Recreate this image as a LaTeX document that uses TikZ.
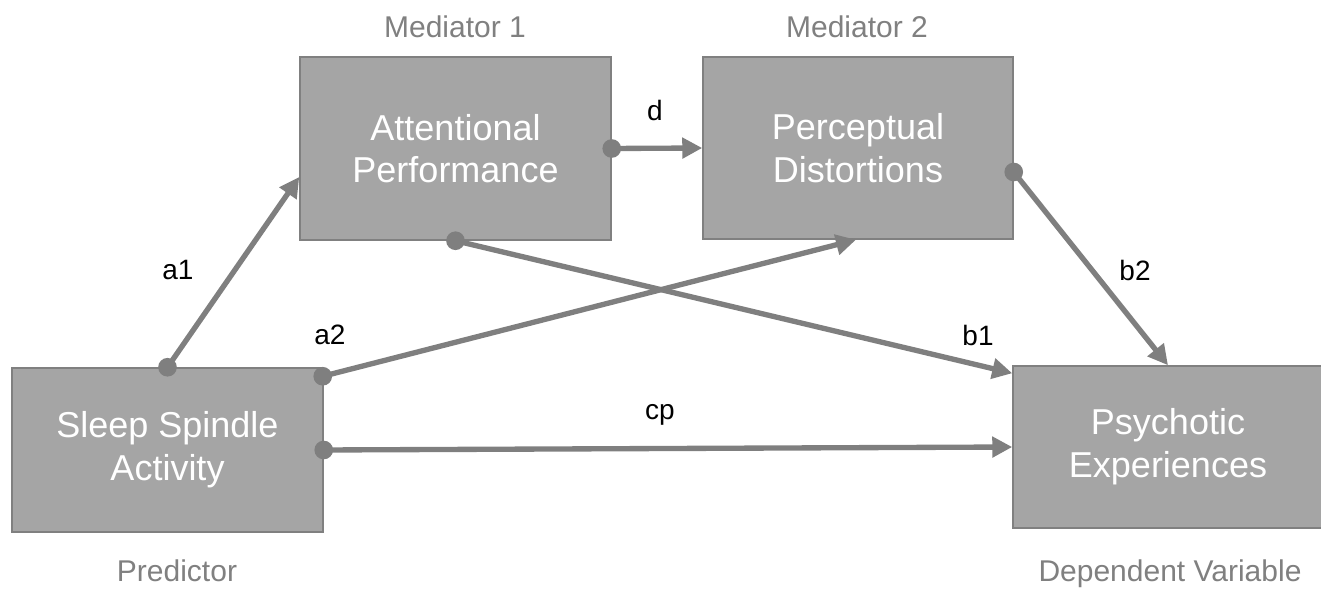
\documentclass[tikz,border=0pt]{standalone}
\usepackage{fontspec}
\setmainfont{Liberation Sans}
\usetikzlibrary{arrows.meta,calc}
\definecolor{boxfill}{HTML}{A5A5A5}
\definecolor{boxline}{HTML}{808080}
\definecolor{conn}{HTML}{7F7F7F}
\definecolor{captxt}{HTML}{808080}
\begin{document}
\begin{tikzpicture}[x=0.75pt,y=-0.75pt,
  varbox/.style={draw=boxline,line width=1.1pt,fill=boxfill,text=white,inner sep=0pt,
    align=center,font=\fontsize{27}{32}\selectfont},
  caption/.style={text=captxt,inner sep=0pt,anchor=base,font=\fontsize{22.5}{27}\selectfont},
  pathlabel/.style={text=black,inner sep=0pt,font=\fontsize{21}{25}\selectfont},
  link/.style={draw=conn,line width=4pt,-{Triangle[length=15pt,width=15pt]}},
  dot/.style={fill=conn}]
\useasboundingbox (0,0) rectangle (1321,591);
\node[varbox,minimum width=233.25pt,minimum height=137.25pt] (att) at (455.5,148.5) {Attentional\\Performance};
\node[varbox,minimum width=232.5pt,minimum height=136.5pt] (per) at (858,148) {Perceptual\\Distortions};
\node[varbox,minimum width=233.25pt,minimum height=123pt] (sleep) at (167.5,450) {Sleep Spindle\\Activity};
\node[varbox,minimum width=232.5pt,minimum height=121.5pt] (psy) at (1168,447) {Psychotic\\Experiences};
\node[caption] (m1) at (455,38) {Mediator 1};
\node[caption] (m2) at (857,38) {Mediator 2};
\node[caption] (pred) at (177,581) {Predictor};
\node[caption] (dv) at (1170,581) {Dependent Variable};
% connectors
\coordinate (a1s) at (sleep.north);
\coordinate (a1e) at ($(att.west)+(0,28.5)$);
\coordinate (a2s) at ($(sleep.north east)+(-1,9)$);
\coordinate (a2e) at ($(per.south)+(-2,0)$);
\coordinate (b1e) at ($(psy.north west)+(0,8)$);
\coordinate (b2s) at ($(per.east)+(0,24)$);
\draw[link] (a1s) -- (a1e);
\draw[link] (a2s) -- (a2e);
\draw[link] (sleep.east) -- (psy.west);
\draw[link] (att.east) -- (per.west);
\draw[link] (att.south) -- (b1e);
\draw[link] (b2s) -- (psy.north);
\foreach \p in {a1s,a2s,sleep.east,att.east,att.south,b2s}
  \fill[dot] (\p) circle[radius=7pt];
% path labels
\node[pathlabel] (la1) at (178,270) {a1};
\node[pathlabel] (la2) at (330,335) {a2};
\node[pathlabel] (ld) at (655,110) {d};
\node[pathlabel] (lb1) at (978,335) {b1};
\node[pathlabel] (lb2) at (1135,270) {b2};
\node[pathlabel] (lcp) at (660,415) {cp};
\end{tikzpicture}
\end{document}
